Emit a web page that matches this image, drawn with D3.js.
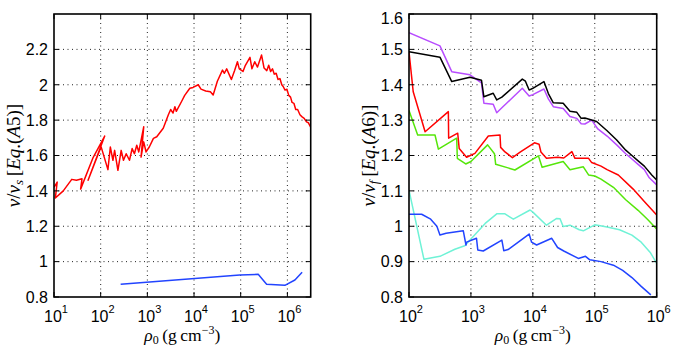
<!DOCTYPE html>
<meta charset="utf-8">
<html>
<script src="https://d3js.org/d3.v7.min.js"></script>
<style>
  body { margin: 0; background: #fff; }
  text { font-family: "Liberation Sans", Arial, sans-serif; }
  .tex { font-family: "Liberation Serif", "Times New Roman", serif; }
</style>
<body>
<div id="my_dataviz"></div>
<script>

// ---- left panel data: v/v_s [Eq.(A5)] vs rho_0 ----
const leftRedRho = [10, 11.7, 10.7, 15.8, 24, 30.2, 39.8, 37.2, 69.2, 122, 53.7, 102, 143, 161, 183, 199, 234, 275, 308, 352, 414, 472, 528, 593, 655, 836, 733, 836, 938, 1100,
  1350, 1590, 2190, 2820, 3160, 3550, 3890, 4170, 5370, 6310, 8130, 9550, 12300, 14100, 17800, 22400, 25700, 31600, 40700, 44700, 50100, 63100, 74100, 85100, 93300,
  112000, 126000, 158000, 174000, 200000, 229000, 280000, 316000, 363000, 398000, 437000, 479000, 525000, 575000, 631000, 692000, 759000, 813000, 891000, 977000,
  1.07e6, 1.17e6, 1.26e6, 1.38e6, 1.51e6, 1.66e6, 1.86e6, 2.04e6, 2.29e6, 2.57e6, 2.82e6, 3.16e6];
const leftRedV = [1.42, 1.45, 1.36, 1.40, 1.465, 1.46, 1.468, 1.41, 1.59, 1.71, 1.46, 1.65, 1.52, 1.648, 1.573, 1.629, 1.516, 1.629, 1.573, 1.61, 1.573, 1.639, 1.61, 1.658, 1.62, 1.762, 1.591, 1.677, 1.62, 1.648,
  1.697, 1.706, 1.754, 1.83, 1.86, 1.84, 1.876, 1.85, 1.904, 1.94, 1.98, 1.985, 2.0, 1.975, 1.965, 1.96, 1.942, 2.02, 2.083, 2.065, 2.09, 2.03, 2.08, 2.13, 2.09,
  2.075, 2.11, 2.155, 2.09, 2.13, 2.1, 2.168, 2.095, 2.08, 2.11, 2.075, 2.09, 2.06, 2.065, 2.03, 2.035, 2.0, 1.99, 1.97, 1.975,
  1.94, 1.93, 1.9, 1.895, 1.86, 1.86, 1.83, 1.82, 1.81, 1.79, 1.785, 1.76];

const leftBlueRho = [268, 95500, 237000, 359000, 883000, 1.45e6, 2.07e6];
const leftBlueV = [0.872, 0.924, 0.928, 0.872, 0.866, 0.896, 0.94];

// ---- right panel data: v/v_f [Eq.(A6)] vs rho_0 ----
const blackRho = [100, 316, 490, 966, 1480, 1620, 2290, 2610, 3160, 6760, 7590, 8710, 10000, 15100, 17800, 21400, 30900, 39800, 51300, 60300, 69200, 1.07e5, 1.58e5, 2.26e5, 3.16e5, 3.98e5, 5.01e5, 6.31e5, 8.32e5, 1e6];
const blackV = [1.493, 1.478, 1.409, 1.421, 1.413, 1.366, 1.376, 1.357, 1.365, 1.416, 1.41, 1.385, 1.39, 1.409, 1.375, 1.349, 1.348, 1.325, 1.322, 1.305, 1.306, 1.296, 1.27, 1.244, 1.215, 1.2, 1.185, 1.17, 1.145, 1.131];

const purpleRho = [100, 316, 490, 966, 1480, 1620, 2290, 2610, 3160, 6760, 8710, 10000, 15100, 17800, 21400, 30900, 39800, 51300, 60300, 69200, 89100, 1.12e5, 1.58e5, 2.26e5, 3.16e5, 3.98e5, 5.01e5, 6.31e5, 7.59e5, 1e6];
const purpleV = [1.547, 1.51, 1.437, 1.428, 1.405, 1.348, 1.345, 1.321, 1.335, 1.39, 1.368, 1.372, 1.388, 1.36, 1.338, 1.333, 1.31, 1.305, 1.29, 1.289, 1.30, 1.275, 1.255, 1.23, 1.205, 1.19, 1.175, 1.16, 1.137, 1.117];

const redRho = [100, 117, 182, 432, 437, 612, 646, 851, 1160, 1910, 2950, 3020, 3550, 4680, 6310, 10600, 12600, 13500, 16600, 25100, 31600, 42700, 47900, 79400, 89100, 1.26e5, 1.58e5, 2.40e5, 4.17e5, 6.31e5, 1e6];
const redV = [1.493, 1.38, 1.267, 1.324, 1.249, 1.263, 1.22, 1.195, 1.206, 1.255, 1.258, 1.223, 1.21, 1.194, 1.21, 1.236, 1.232, 1.21, 1.192, 1.195, 1.193, 1.211, 1.192, 1.192, 1.18, 1.17, 1.16, 1.145, 1.105, 1.07, 1.032];

const greenRho = [100, 138, 263, 298, 589, 603, 824, 1000, 1860, 2400, 2510, 3980, 5130, 12300, 14100, 30900, 39800, 65300, 79400, 1e5, 1.26e5, 2.0e5, 3.16e5, 5.01e5, 7.08e5, 1e6];
const greenV = [1.327, 1.258, 1.258, 1.218, 1.249, 1.192, 1.176, 1.183, 1.23, 1.205, 1.175, 1.165, 1.159, 1.199, 1.167, 1.183, 1.16, 1.168, 1.145, 1.142, 1.133, 1.11, 1.075, 1.045, 1.02, 0.992];

const cyanRho = [100, 174, 316, 550, 794, 1700, 2610, 3550, 4840, 9020, 10000, 16600, 24300, 27500, 30900, 39800, 56200, 65300, 1e5, 1.58e5, 2.51e5, 3.98e5, 5.62e5, 7.94e5, 1e6];
const cyanV = [1.102, 0.907, 0.915, 0.935, 0.945, 1.008, 1.035, 1.035, 1.02, 1.046, 1.04, 1.003, 1.022, 1.021, 0.999, 1.003, 0.99, 0.987, 1.004, 0.998, 0.99, 0.975, 0.955, 0.925, 0.895];

const blueRho = [100, 160, 224, 282, 316, 398, 753, 832, 851, 1230, 1290, 1580, 3160, 3390, 3980, 8710, 9550, 11500, 20200, 25100, 31600, 54300, 70800, 83200, 1.26e5, 2.0e5, 2.82e5, 3.98e5, 5.62e5, 8.04e5];
const blueV = [1.034, 1.034, 1.02, 1.0, 0.975, 0.98, 0.987, 0.947, 0.955, 0.966, 0.933, 0.93, 0.961, 0.931, 0.934, 0.978, 0.955, 0.947, 0.966, 0.94, 0.93, 0.909, 0.915, 0.905, 0.9, 0.89, 0.875, 0.855, 0.83, 0.806];

// tick values
const leftXTicks = [1e1, 1e2, 1e3, 1e4, 1e5, 1e6];
const leftYTicks = [0.8, 1, 1.2, 1.4, 1.6, 1.8, 2, 2.2];
const rightXTicks = [1e2, 1e3, 1e4, 1e5, 1e6];
const rightYTicks = [0.8, 0.9, 1, 1.1, 1.2, 1.3, 1.4, 1.5, 1.6];

const width = 675, height = 350;

const svg = d3.select("#my_dataviz")
  .append("svg")
    .attr("width", width)
    .attr("height", height);

const zip = (xs, ys) => xs.map((x, i) => [x, ys[i]]);

const panels = [
  {
    left: 54, right: 310.7, top: 14, bottom: 297,
    xDomain: [10, 3.16e6], yDomain: [0.8, 2.4],
    xTicks: leftXTicks, yTicks: leftYTicks,
    sub: "s", eq: "5", labelX: 20,
    series: [
      { data: zip(leftRedRho, leftRedV), color: "#ff0000" },
      { data: zip(leftBlueRho, leftBlueV), color: "#2244ff" }
    ]
  },
  {
    left: 409, right: 656.7, top: 14, bottom: 297,
    xDomain: [100, 1e6], yDomain: [0.8, 1.6],
    xTicks: rightXTicks, yTicks: rightYTicks,
    sub: "f", eq: "6", labelX: 375,
    series: [
      { data: zip(cyanRho, cyanV), color: "#6ff2d6" },
      { data: zip(blueRho, blueV), color: "#2244ff" },
      { data: zip(greenRho, greenV), color: "#55e60a" },
      { data: zip(redRho, redV), color: "#ff0000" },
      { data: zip(purpleRho, purpleV), color: "#b84dff" },
      { data: zip(blackRho, blackV), color: "#000000" }
    ]
  }
];

panels.forEach(function(p, pi) {
  const x = d3.scaleLog().domain(p.xDomain).range([p.left, p.right]);
  const y = d3.scaleLinear().domain(p.yDomain).range([p.bottom, p.top]);
  const g = svg.append("g");

  // clip for curves
  svg.append("clipPath").attr("id", "clip" + pi)
    .append("rect")
      .attr("x", p.left).attr("y", p.top)
      .attr("width", p.right - p.left).attr("height", p.bottom - p.top);

  // dotted grid
  g.selectAll("vgrid")
    .data(p.xTicks.filter(t => x(t) > p.left + 1 && x(t) < p.right - 1))
    .join("line")
      .attr("x1", d => x(d)).attr("x2", d => x(d))
      .attr("y1", p.top).attr("y2", p.bottom)
      .attr("stroke", "#222").attr("stroke-width", 1)
      .attr("stroke-dasharray", "1,3.5");
  g.selectAll("hgrid")
    .data(p.yTicks.filter(t => y(t) > p.top + 1 && y(t) < p.bottom - 1))
    .join("line")
      .attr("y1", d => y(d)).attr("y2", d => y(d))
      .attr("x1", p.left).attr("x2", p.right)
      .attr("stroke", "#222").attr("stroke-width", 1)
      .attr("stroke-dasharray", "1,3.5");

  // curves
  const line = d3.line().x(d => x(d[0])).y(d => y(d[1]));
  g.selectAll("curves")
    .data(p.series)
    .join("path")
      .attr("clip-path", "url(#clip" + pi + ")")
      .attr("d", d => line(d.data))
      .attr("fill", "none")
      .attr("stroke", d => d.color)
      .attr("stroke-width", 1.5)
      .attr("stroke-linejoin", "round");

  // inward ticks on all four sides
  const tl = 5;
  p.xTicks.forEach(function(t) {
    g.append("line").attr("x1", x(t)).attr("x2", x(t)).attr("y1", p.bottom).attr("y2", p.bottom - tl).attr("stroke", "#000");
    g.append("line").attr("x1", x(t)).attr("x2", x(t)).attr("y1", p.top).attr("y2", p.top + tl).attr("stroke", "#000");
  });
  p.yTicks.forEach(function(t) {
    g.append("line").attr("y1", y(t)).attr("y2", y(t)).attr("x1", p.left).attr("x2", p.left + tl).attr("stroke", "#000");
    g.append("line").attr("y1", y(t)).attr("y2", y(t)).attr("x1", p.right).attr("x2", p.right - tl).attr("stroke", "#000");
  });

  // box
  g.append("rect")
    .attr("x", p.left).attr("y", p.top)
    .attr("width", p.right - p.left).attr("height", p.bottom - p.top)
    .attr("fill", "none").attr("stroke", "#000").attr("stroke-width", 1.6);

  // y tick labels
  g.selectAll("ylab")
    .data(p.yTicks)
    .join("text")
      .attr("x", p.left - 6)
      .attr("y", d => Math.max(y(d), p.top + 4) + 5.8)
      .attr("text-anchor", "end")
      .style("font-size", "16px")
      .text(d => d3.format("~g")(d));

  // x tick labels, 10^n
  p.xTicks.forEach(function(t) {
    const n = Math.round(Math.log10(t));
    const txt = g.append("text")
      .attr("x", x(t) + 2)
      .attr("y", 321.5)
      .attr("text-anchor", "middle")
      .style("font-size", "16px");
    txt.append("tspan").text("10");
    txt.append("tspan").attr("dy", -9).style("font-size", "11px").text(n);
  });

  // x axis label
  const cx = (p.left + p.right) / 2;
  const xl = g.append("text").attr("class", "tex")
    .attr("x", cx).attr("y", 341)
    .attr("text-anchor", "middle")
    .style("font-size", "17.5px");
  xl.append("tspan").style("font-style", "italic").text("ρ");
  xl.append("tspan").attr("dy", 3).style("font-size", "12px").text("0");
  xl.append("tspan").attr("dy", -3).text("\u2009(g\u2009cm");
  xl.append("tspan").attr("dy", -7).style("font-size", "12px").text("−3");
  xl.append("tspan").attr("dy", 7).text(")");

  // y axis label, rotated
  const cy = (p.top + p.bottom) / 2;
  const yl = g.append("text").attr("class", "tex")
    .attr("transform", `translate(${p.labelX},${cy}) rotate(-90)`)
    .attr("text-anchor", "middle")
    .style("font-size", "19px");
  yl.append("tspan").style("font-style", "italic").text("v");
  yl.append("tspan").text("/");
  yl.append("tspan").style("font-style", "italic").text("v");
  yl.append("tspan").attr("dy", 3).style("font-size", "13px").style("font-style", "italic").text(p.sub);
  yl.append("tspan").attr("dy", -3).text("\u2009[");
  yl.append("tspan").style("font-style", "italic").text("Eq");
  yl.append("tspan").text(".(");
  yl.append("tspan").style("font-style", "italic").text("A");
  yl.append("tspan").text(p.eq + ")]");
});

</script>
</body>
</html>
